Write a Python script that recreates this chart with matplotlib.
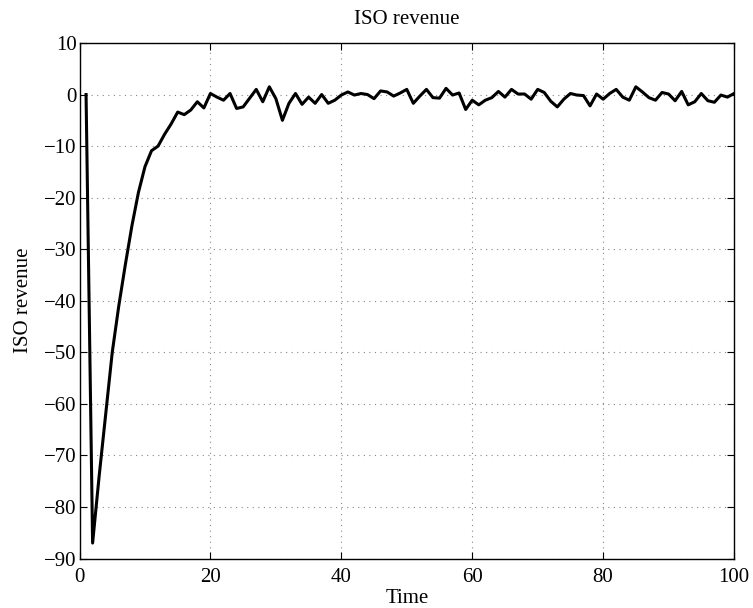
import matplotlib.pyplot as plt

# ISO revenue per time step
time = list(range(1, 101))
revenue = [
    0.0, -87.0, -74.0, -62.0, -50.0, -41.0, -33.0, -25.5, -19.0, -14.0,
    -10.9, -10.0, -7.7, -5.7, -3.4, -3.9, -3.0, -1.4, -2.6, 0.2,
    -0.5, -1.1, 0.2, -2.7, -2.4, -0.7, 1.0, -1.4, 1.5, -0.8,
    -5.0, -1.7, 0.2, -1.9, -0.5, -1.7, 0.0, -1.7, -1.1, -0.1,
    0.5, -0.1, 0.2, 0.0, -0.8, 0.7, 0.5, -0.3, 0.3, 1.0,
    -1.7, -0.3, 1.0, -0.6, -0.7, 1.2, -0.1, 0.3, -2.9, -1.1,
    -2.0, -1.1, -0.6, 0.6, -0.5, 1.0, 0.1, 0.1, -0.9, 1.0,
    0.4, -1.3, -2.4, -0.9, 0.2, -0.1, -0.2, -2.2, 0.1, -0.9,
    0.2, 1.0, -0.5, -1.1, 1.5, 0.5, -0.6, -1.1, 0.4, 0.1,
    -1.2, 0.6, -2.0, -1.4, 0.2, -1.2, -1.5, -0.1, -0.5, 0.2,
]

xticks = [0, 20, 40, 60, 80, 100]
yticks = list(range(-90, 11, 10))

plt.rcParams["font.family"] = ["Liberation Serif", "DejaVu Serif"]
plt.rcParams["font.size"] = 15

fig = plt.figure(figsize=(7.53, 6.08), dpi=100)
ax = fig.add_axes([0.1056, 0.0814, 0.9748 - 0.1056, 0.9293 - 0.0814])

ax.plot(time, revenue, color="black", linewidth=2.2)

# Axes limits and ticks (MATLAB-like box)
ax.set_xlim(0, 100)
ax.set_ylim(-90, 10)
ax.set_xticks(xticks)
ax.set_yticks(yticks)
ax.tick_params(direction="in", top=True, right=True, length=5, width=0.8)
ax.tick_params(axis="x", pad=7)
ax.tick_params(axis="y", pad=2)
ax.grid(True, linestyle=(0, (1, 4)), color="#888888", linewidth=0.8)

for spine in ax.spines.values():
    spine.set_linewidth(1.0)

ax.set_title("ISO revenue", fontsize=15, pad=14)
ax.set_xlabel("Time", labelpad=1)
ax.set_ylabel("ISO revenue", labelpad=8)

fig.savefig("out.png", dpi=100)
